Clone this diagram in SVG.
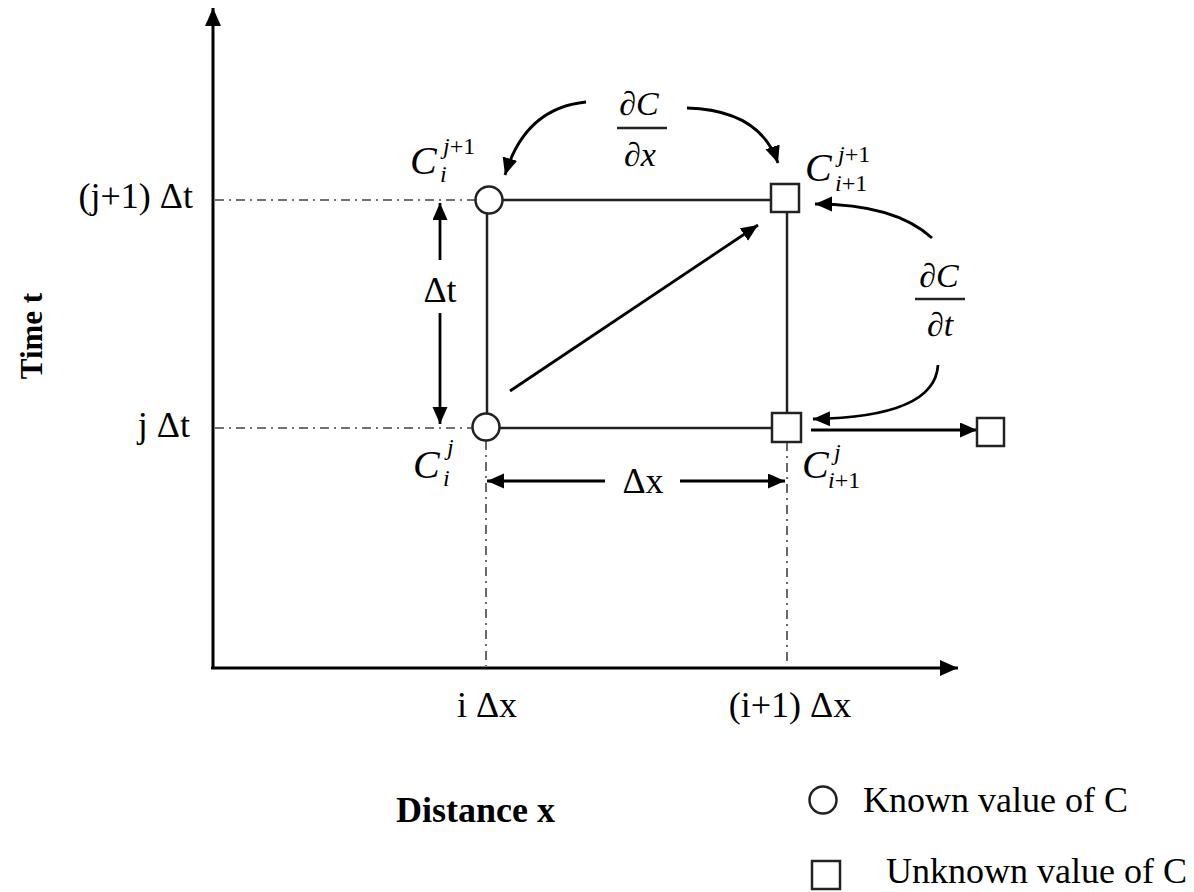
<svg xmlns="http://www.w3.org/2000/svg" width="1194" height="892" viewBox="0 0 1194 892">
<style>
text{font-family:"Liberation Serif","Times New Roman",serif;fill:#000}
.lbl{font-size:36px}
.bold{font-weight:bold}
.mc{font-size:40px;font-style:italic}
.ms{font-size:24px;font-style:italic}
.rm{font-style:normal}
.fr{font-size:34px;font-style:italic}
.axis{stroke:#000;stroke-width:3;fill:none}
.grid{stroke:#222;stroke-width:2.5;fill:none}
.dd{stroke:#444;stroke-width:1.6;fill:none;stroke-dasharray:9 5 2 5}
.arr{stroke:#000;stroke-width:2.8;fill:none}
.node{fill:#fff;stroke:#222;stroke-width:2.5}
</style>
<defs>
<marker id="ah" markerUnits="userSpaceOnUse" markerWidth="20" markerHeight="20" refX="18" refY="8" orient="auto">
<path d="M0,0 L18,8 L0,16 Z" fill="#000"/>
</marker>
<marker id="sh" markerUnits="userSpaceOnUse" markerWidth="20" markerHeight="18" refX="17" refY="7.5" orient="auto">
<path d="M0,0 L17,7.5 L0,15 Z" fill="#000"/>
</marker>
</defs>

<g id="axes">
<line class="axis" x1="213" y1="669" x2="213" y2="8" marker-end="url(#ah)"/>
<line class="axis" x1="211" y1="668" x2="958" y2="668" marker-end="url(#ah)"/>
<text class="bold" transform="translate(42,336) rotate(-90)" text-anchor="middle" font-size="31">Time t</text>
<text class="lbl bold" x="396" y="822">Distance x</text>
<text class="lbl" x="193" y="208" text-anchor="end">(j+1) Δt</text>
<text class="lbl" x="190" y="437" text-anchor="end">j Δt</text>
<text class="lbl" x="487" y="717" text-anchor="middle">i Δx</text>
<text class="lbl" x="790" y="717" text-anchor="middle">(i+1) Δx</text>
</g>

<g id="connectors">
<line class="dd" x1="215" y1="200" x2="475" y2="200"/>
<line class="dd" x1="215" y1="428" x2="472" y2="428"/>
<line class="dd" x1="486" y1="441" x2="486" y2="666"/>
<line class="dd" x1="787" y1="442" x2="787" y2="666"/>
<line class="grid" x1="503" y1="200" x2="771" y2="200"/>
<line class="grid" x1="500" y1="428" x2="772" y2="428" stroke="#666"/>
<line class="grid" x1="487" y1="213" x2="487" y2="414"/>
<line class="grid" x1="787" y1="212" x2="787" y2="413"/>
<line class="arr" x1="510" y1="391" x2="758" y2="225" marker-end="url(#sh)"/>
<line class="arr" x1="440" y1="260" x2="440" y2="203" marker-end="url(#sh)"/>
<line class="arr" x1="440" y1="313" x2="440" y2="424" marker-end="url(#sh)"/>
<text class="lbl" x="440" y="302" text-anchor="middle">Δt</text>
<line class="arr" x1="605" y1="481" x2="487" y2="481" marker-end="url(#sh)"/>
<line class="arr" x1="680" y1="481" x2="785" y2="481" marker-end="url(#sh)"/>
<text class="lbl" x="643" y="493" text-anchor="middle">Δx</text>
<line class="arr" x1="811" y1="430" x2="977" y2="430" marker-end="url(#sh)"/>
<path class="arr" d="M 586 102 Q 525 108 505 175" marker-end="url(#sh)"/>
<path class="arr" d="M 687 108 Q 760 110 778 163" marker-end="url(#sh)"/>
<path class="arr" d="M 932 238 Q 895 204 815 204" marker-end="url(#sh)"/>
<path class="arr" d="M 938 365 Q 935 417 813 419" marker-end="url(#sh)"/>
</g>

<g id="dCdx">
<text class="fr" x="639" y="115" text-anchor="middle">∂C</text>
<line x1="617" y1="128" x2="667" y2="128" stroke="#222" stroke-width="2.5"/>
<text class="fr" x="640" y="166" text-anchor="middle">∂x</text>
</g>
<g id="dCdt">
<text class="fr" x="939" y="287" text-anchor="middle">∂C</text>
<line x1="915" y1="299" x2="965" y2="299" stroke="#222" stroke-width="2.5"/>
<text class="fr" x="940" y="336" text-anchor="middle">∂t</text>
</g>

<g id="node-c-i-j1">
<circle class="node" cx="489" cy="200" r="13.5"/>
<text class="mc" x="410" y="174">C</text>
<text class="ms" x="443" y="154">j<tspan class="rm">+1</tspan></text>
<text class="ms" x="440" y="182">i</text>
</g>
<g id="node-c-i1-j1">
<rect class="node" x="771" y="184" width="28" height="28"/>
<text class="mc" x="805" y="181">C</text>
<text class="ms" x="838" y="162">j<tspan class="rm">+1</tspan></text>
<text class="ms" x="835" y="191">i<tspan class="rm">+1</tspan></text>
</g>
<g id="node-c-i-j">
<circle class="node" cx="486" cy="427" r="13.5"/>
<text class="mc" x="413" y="478">C</text>
<text class="ms" x="447" y="455">j</text>
<text class="ms" x="443" y="486">i</text>
</g>
<g id="node-c-i1-j">
<rect class="node" x="772" y="413" width="29" height="29"/>
<text class="mc" x="802" y="478">C</text>
<text class="ms" x="834" y="460">j</text>
<text class="ms" x="828" y="488">i<tspan class="rm">+1</tspan></text>
</g>
<g id="node-next">
<rect class="node" x="977" y="418" width="27" height="28"/>
</g>

<g id="legend">
<circle class="node" cx="823" cy="800" r="13.5"/>
<text class="lbl" x="863" y="812">Known value of C</text>
<rect class="node" x="812" y="861" width="28" height="28"/>
<text class="lbl" x="886" y="883">Unknown value of C</text>
</g>
</svg>
